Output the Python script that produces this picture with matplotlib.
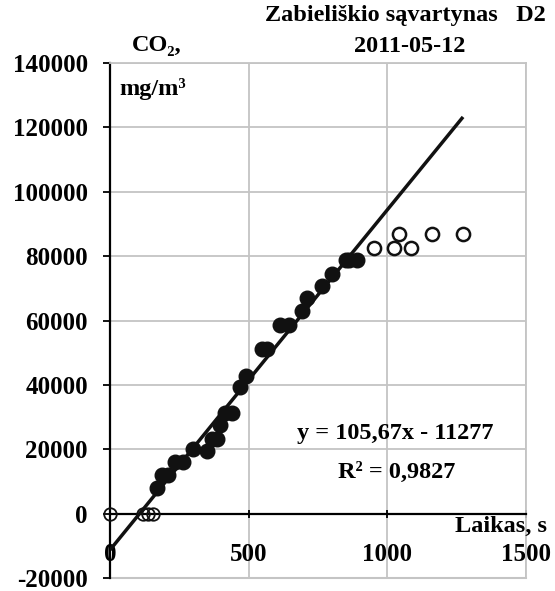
import numpy as np
import matplotlib
matplotlib.use("Agg")
import matplotlib.pyplot as plt

# --- data ---
fit_x = [169, 187, 209, 234, 263, 299, 349, 367, 385, 396, 414, 439, 468, 489,
         547, 565, 612, 647, 694, 709, 766, 799, 852, 863, 892]
fit_y = [8000, 12000, 12000, 16000, 16000, 20000, 19500, 23300, 23300, 27400,
         31400, 31400, 39200, 42900, 51300, 51300, 58500, 58500, 62800, 66900,
         70600, 74600, 78700, 78700, 78700]
open_x = [953, 1025, 1043, 1086, 1162, 1273]
open_y = [82400, 82400, 86800, 82400, 86800, 86800]
zero_x = [0, 120, 137, 155]
zero_y = [0, 0, 0, 0]
slope, intercept = 105.67, -11277
x_ticks = [0, 500, 1000, 1500]
y_ticks = list(range(-20000, 140001, 20000))

plt.rcParams['font.family'] = ['Liberation Serif', 'DejaVu Serif']
plt.rcParams['font.weight'] = 'bold'

fig = plt.figure(figsize=(5.55, 5.91), dpi=100)
ax = fig.add_axes([110 / 555, 13 / 591, 416 / 555, 515 / 591])
ax.set_xlim(0, 1500)
ax.set_ylim(-20000, 140000)

grey = '#c4c4c4'
ax.set_xticks(x_ticks)
ax.set_yticks(y_ticks)
ax.grid(True, color=grey, lw=1.3, zorder=0)
ax.set_axisbelow(True)

ax.spines['left'].set_color('black')
ax.spines['left'].set_linewidth(1.6)
ax.spines['bottom'].set_position(('data', 0))
ax.spines['bottom'].set_color('black')
ax.spines['bottom'].set_linewidth(1.6)
for s in ['top', 'right']:
    ax.spines[s].set_color(grey)
    ax.spines[s].set_linewidth(1.3)
ax.axhline(-20000, color=grey, lw=1.5, clip_on=False, zorder=1)

ax.tick_params(axis='y', direction='out', length=5, width=1.3, pad=11,
               labelsize=18)
ax.tick_params(axis='x', direction='inout', length=6, width=1.3, pad=18,
               labelsize=18)
ax.set_yticklabels([str(v) for v in y_ticks], fontweight='bold')
ax.set_xticklabels([str(v) for v in x_ticks], fontweight='bold')

# regression line and points
lx = np.array([0, max(open_x)])
ax.plot(lx, slope * lx + intercept, color='#111111', lw=2.5, zorder=3,
        solid_capstyle='butt')
ax.plot(fit_x, fit_y, 'o', color='#111111', ms=10.5, zorder=4)
ax.plot(open_x, open_y, 'o', mfc='none', mec='#111111', mew=1.8, ms=9.5,
        zorder=4)
ax.plot(zero_x, zero_y, 'o', mfc='none', mec='#111111', mew=1.3, ms=9,
        zorder=4, clip_on=False)

# texts
fs = 17.5
fig.text(546 / 555, 1 - 16 / 591, 'Zabieliškio sąvartynas   D2', ha='right',
         va='center', fontsize=fs, fontweight='bold')
fig.text(410 / 555, 1 - 46 / 591, '2011-05-12', ha='center', va='center',
         fontsize=fs, fontweight='bold')
fig.text(157 / 555, 1 - 45 / 591, 'CO₂,', ha='center',
         va='center', fontsize=fs, fontweight='bold')
fig.text(153 / 555, 1 - 89 / 591, 'mg/m³', ha='center',
         va='center', fontsize=fs, fontweight='bold')
fig.text(395 / 555, 1 - 434 / 591, 'y = 105,67x - 11277', ha='center',
         va='center', fontsize=fs, fontweight='bold')
fig.text(397 / 555, 1 - 472 / 591, 'R² = 0,9827', ha='center',
         va='center', fontsize=fs, fontweight='bold')
fig.text(547 / 555, 1 - 526 / 591, 'Laikas, s', ha='right', va='center',
         fontsize=fs, fontweight='bold')

fig.savefig('out.png', dpi=100)
